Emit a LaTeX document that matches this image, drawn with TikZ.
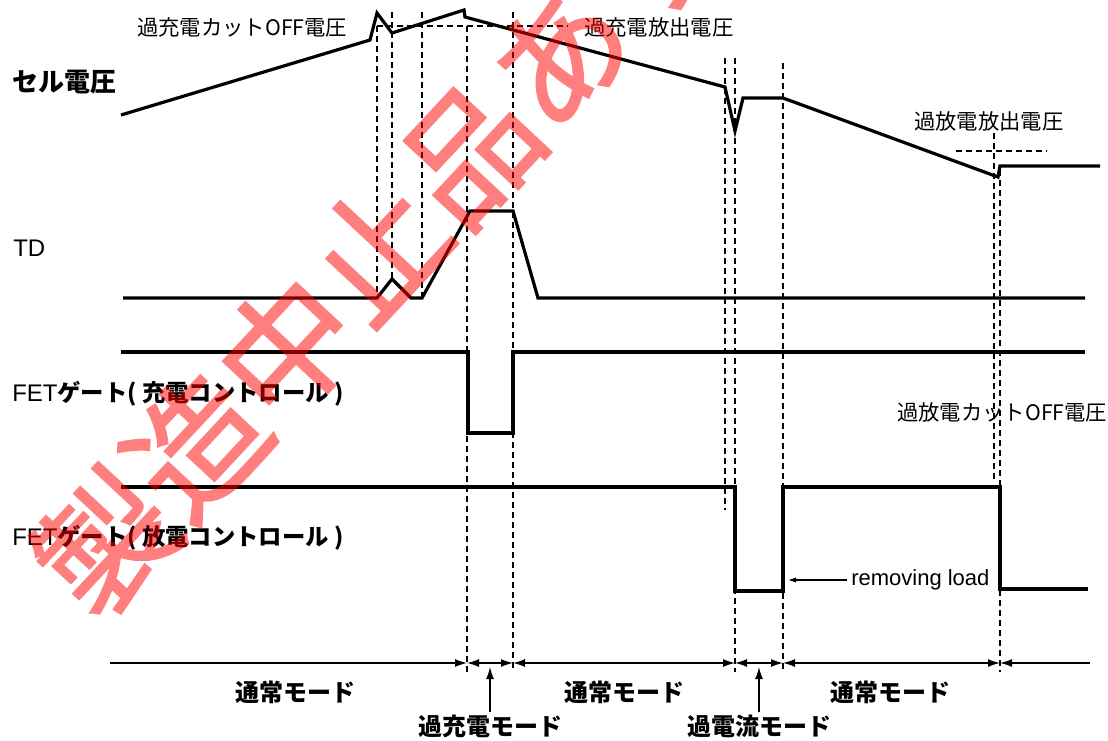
\documentclass[tikz,border=0pt]{standalone}
\usepackage{fontspec}
\setmainfont{Liberation Sans}
\newfontfamily\jp{Noto Sans CJK JP}
\newfontfamily\jpwm[FakeBold=1.4]{Noto Sans CJK JP}
\usetikzlibrary{arrows.meta}
\begin{document}
\begin{tikzpicture}[x=0.75pt,y=-0.75pt,
  wave/.style={line width=2.4pt, line join=miter},
  guide/.style={line width=0.8pt, dash pattern=on 4.5pt off 3pt},
  axisline/.style={line width=1pt},
  lbl/.style={inner sep=0pt, font=\jp\fontsize{16}{18}\selectfont},
  latin/.style={inner sep=0pt, font=\fontsize{18}{20}\selectfont},
  small/.style={inner sep=0pt, font=\fontsize{16.5}{18}\selectfont},
  boldlbl/.style={inner sep=0pt, font=\jp\bfseries\fontsize{18}{20}\selectfont},
  tipend/.style={-{Latex[length=9pt,width=6pt]}},
  tipboth/.style={{Latex[length=9pt,width=6pt]}-{Latex[length=9pt,width=6pt]}},
  tipstart/.style={{Latex[length=9pt,width=6pt]}-},
  smalltip/.style={line width=0.8pt,-{Latex[length=6pt,width=4pt]}},
  wmark/.style={inner sep=0pt, text=red, font=\jpwm\fontsize{100}{100}\selectfont}
]
\useasboundingbox (0,0) rectangle (1108,740);

% guides (dashed)
\draw[guide] (377,26) -- (377,298);
\draw[guide] (392,12) -- (392,279);
\draw[guide] (422,12) -- (422,298);
\draw[guide] (467,26) -- (467,672);
\draw[guide] (513,12) -- (513,672);
\draw[guide] (725,58) -- (725,510);
\draw[guide] (735,58) -- (735,672);
\draw[guide] (783,63) -- (783,672);
\draw[guide] (994,133) -- (994,480);
\draw[guide] (1000,170) -- (1000,672);
\draw[guide] (377,26) -- (568,26);
\draw[guide] (956,151) -- (1047,151);

% cell voltage
\draw[wave] (121,115) -- (370,40) -- (377,13) -- (392,33) -- (464,10) -- (465,17) -- (725,87) -- (735,131) -- (743,98) -- (783,98) -- (998,177) -- (1000,166) -- (1100,166);
% TD
\draw[wave] (123,298) -- (377,298) -- (392,279) -- (411,298) -- (422,298) -- (470,211) -- (513,211) -- (538,298) -- (1085,298);
% FET charge
\draw[wave] (121,352) -- (468,352) -- (468,433) -- (513,433) -- (513,352) -- (1085,352);
% FET discharge
\draw[wave] (121,487) -- (735,487) -- (735,591) -- (783,591) -- (783,487) -- (1000,487) -- (1000,589) -- (1088,589);

% labels
\node[lbl, anchor=west] (ocoff) at (137,27) {過充電カットOFF電圧};
\node[lbl, anchor=west] (ocrel) at (584,27) {過充電放出電圧};
\node[lbl, anchor=west] (odrel) at (914,121) {過放電放出電圧};
\node[lbl, anchor=west] (odoff) at (897,412) {過放電カットOFF電圧};
\node[boldlbl, font=\jp\bfseries\fontsize{19.5}{22}\selectfont, anchor=west] (cellv) at (12,82) {セル電圧};
\node[latin, anchor=west] (td) at (13,248) {TD};
\node[latin, anchor=west] (fetc) at (12,394) {FET{\jp\bfseries\fontsize{17.5}{20}\selectfont ゲート( 充電コントロール )}};
\node[latin, anchor=west] (fetd) at (12,538) {FET{\jp\bfseries\fontsize{17.5}{20}\selectfont ゲート( 放電コントロール )}};
\node[small, anchor=west] (rl) at (851,580) {removing load};
\coordinate (rlend) at (788,580);
\draw[smalltip] ([xshift=-3pt]rl.west) -- (rlend);

% time axis
\coordinate (t0) at (110,663);
\coordinate (b1) at (467,663);
\coordinate (b2) at (513,663);
\coordinate (b3) at (735,663);
\coordinate (b4) at (783,663);
\coordinate (b5) at (1000,663);
\coordinate (t6) at (1090,663);
\draw[axisline, tipend] (t0) -- (b1);
\draw[axisline, tipboth] (b1) -- (b2);
\draw[axisline, tipboth] (b2) -- (b3);
\draw[axisline, tipboth] (b3) -- (b4);
\draw[axisline, tipboth] (b4) -- (b5);
\draw[axisline, tipstart] (b5) -- (t6);

\node[boldlbl] (n1) at (295,692) {通常モード};
\node[boldlbl] (n2) at (624,692) {通常モード};
\node[boldlbl] (n3) at (890,692) {通常モード};
\node[boldlbl] (ocm) at (490,726) {過充電モード};
\node[boldlbl] (occ) at (759,726) {過電流モード};
\coordinate (ocmtip) at (490,667);
\coordinate (occtip) at (759,667);
\draw[axisline, tipend] (ocm.north) ++(0,-2) -- (ocmtip);
\draw[axisline, tipend] (occ.north) ++(0,-2) -- (occtip);

% watermark
\begin{scope}[transparency group, opacity=0.5]
\clip (0,0) rectangle (1108,740);
\node[wmark, rotate=47] (wm) at (378,250) {製造中止品あり};
\end{scope}
\end{tikzpicture}
\end{document}
